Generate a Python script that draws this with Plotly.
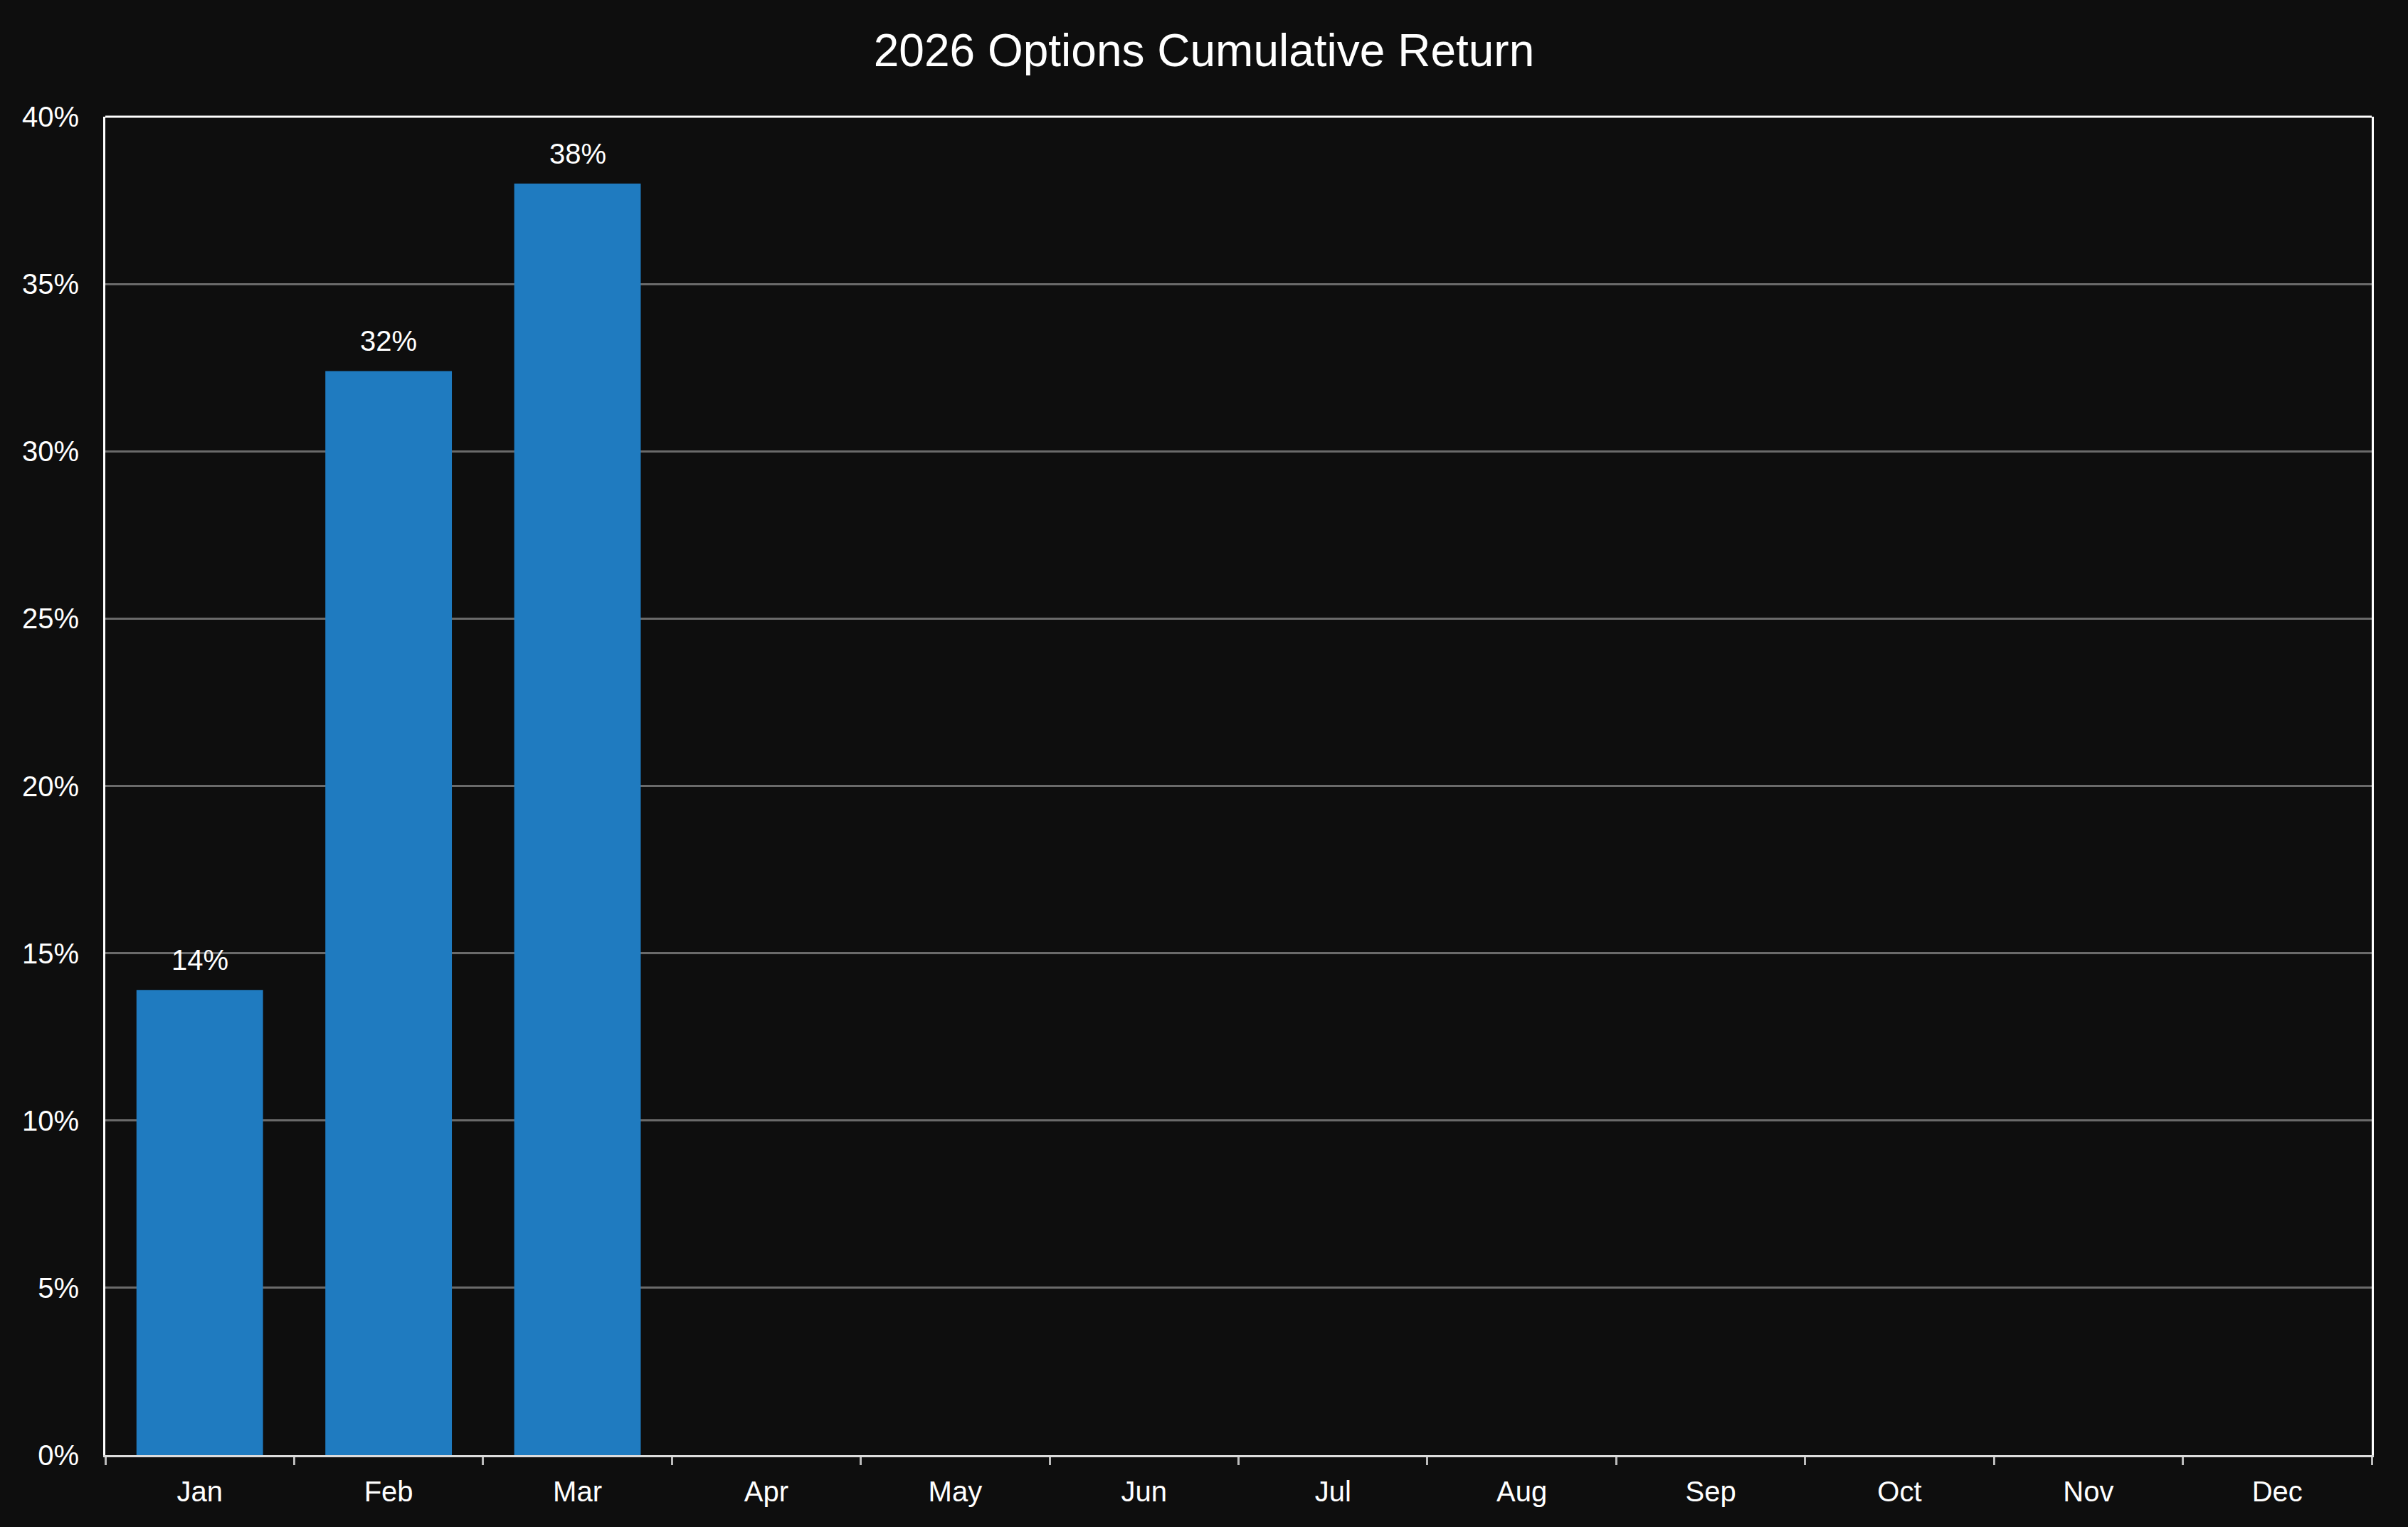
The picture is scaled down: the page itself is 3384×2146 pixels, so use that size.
import plotly.graph_objects as go

months = ["Jan", "Feb", "Mar", "Apr", "May", "Jun",
          "Jul", "Aug", "Sep", "Oct", "Nov", "Dec"]
cum_return = [13.9, 32.4, 38.0, None, None, None,
              None, None, None, None, None, None]
y_ticks = [0, 5, 10, 15, 20, 25, 30, 35, 40]

bg = "#0e0e0e"
bar_color = "#1f7bc0"

fig = go.Figure(go.Bar(
    x=months,
    y=cum_return,
    marker_color=bar_color,
    marker_line_width=0,
    hoverinfo="skip",
))

# value labels above the bars
labels = [dict(x=m, y=v, text=f"{v:.0f}%", showarrow=False,
               yanchor="bottom", yshift=18,
               font=dict(size=40, color="white"))
          for m, v in zip(months, cum_return) if v is not None]

fig.update_layout(
    width=3384,
    height=2146,
    paper_bgcolor=bg,
    plot_bgcolor=bg,
    margin=dict(l=148, r=51, t=164, b=101),
    bargap=0.33,
    showlegend=False,
    font=dict(family="Liberation Sans, Arial, sans-serif", size=40, color="white"),
    title=dict(text="2026 Options Cumulative Return",
               x=0.5, xanchor="center", y=1 - 71 / 2146, yanchor="middle",
               font=dict(size=64, color="white")),
    annotations=labels,
    xaxis=dict(
        type="category",
        categoryorder="array",
        categoryarray=months,
        range=[-0.5, 11.5],
        showgrid=False,
        showline=True,
        linecolor="#dcdcdc",
        linewidth=3,
        ticks="outside",
        tickson="boundaries",
        ticklen=11,
        tickwidth=3,
        tickcolor="#bbbbbb",
        ticklabelstandoff=14,
        tickfont=dict(size=40, color="white"),
    ),
    yaxis=dict(
        range=[0, 40],
        tickvals=y_ticks,
        ticktext=[f"{t}%" for t in y_ticks],
        showgrid=True,
        gridcolor="#6a6a6a",
        gridwidth=3,
        zeroline=False,
        showline=True,
        mirror=True,
        linecolor="white",
        linewidth=3,
        ticks="",
        ticklabelstandoff=26,
        tickfont=dict(size=40, color="white"),
    ),
    shapes=[dict(type="line", xref="paper", yref="paper",
                 x0=0, x1=1, y0=1, y1=1,
                 line=dict(color="white", width=3))],
)

fig.write_html(
    "out.html",
    config={"displayModeBar": False},
    post_script="document.body.style.margin='0';"
                "document.body.style.background='#0e0e0e';"
                "document.body.style.overflow='hidden';",
)
